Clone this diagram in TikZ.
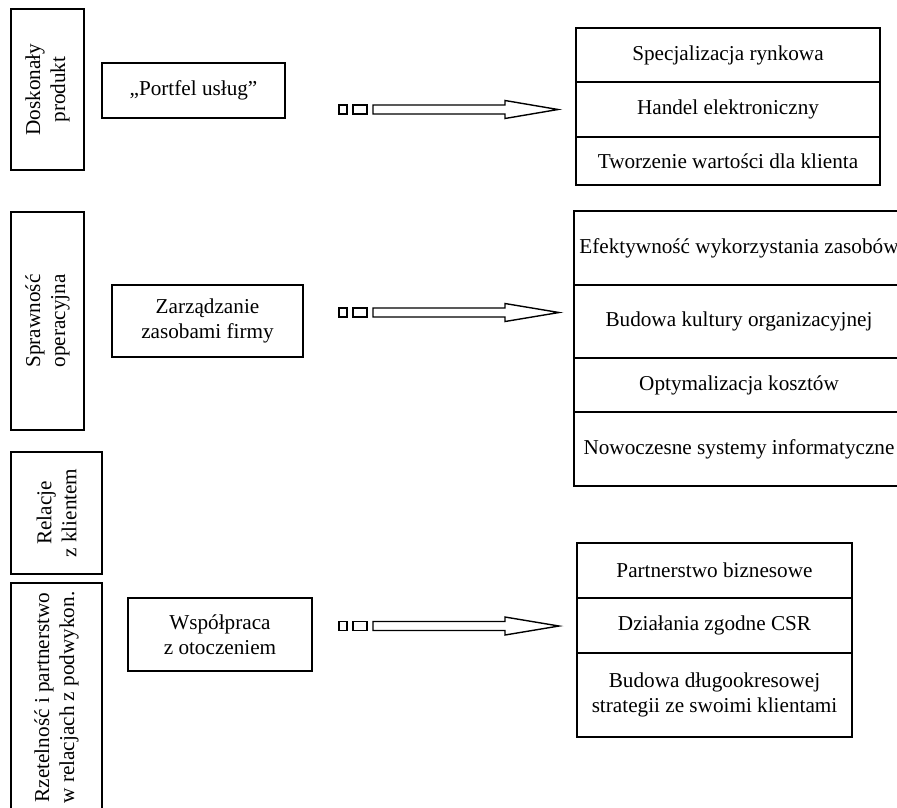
\documentclass[tikz,border=0pt]{standalone}
\usepackage{fontspec}
\setmainfont{Liberation Serif}
\usetikzlibrary{positioning}

\tikzset{
  txt/.style={font=\fontsize{21.2}{25}\selectfont, align=center},
  sidebox/.style={draw, line width=1.3pt, txt, rotate=90, inner sep=2pt},
  midbox/.style={draw, line width=1.3pt, txt, inner sep=2pt},
  cell/.style={draw, line width=1.3pt, txt, outer sep=0pt, inner sep=2pt},
  hollow/.style={draw, line width=1.4pt, fill=white}
}

\begin{document}
\begin{tikzpicture}[x=1pt, y=-1pt]
        \useasboundingbox (0,0) rectangle (897,808);
        \clip (0,0) rectangle (897,808);

        % left column
        \node[sidebox, minimum width=161pt, minimum height=73pt] (dosk) at (47.5,89.5) {Doskonały\\produkt};
        \node[sidebox, minimum width=218pt, minimum height=73pt] (spraw) at (47.5,321) {Sprawność\\operacyjna};
        \node[sidebox, minimum width=122pt, minimum height=91pt] (relacje) at (56.5,513) {Relacje\\z klientem};
        \node[sidebox, minimum width=229pt, minimum height=91pt] (rzetel) at (56.5,697.5) {Rzetelność i partnerstwo\\w relacjach z podwykon.};

        % middle column
        \node[midbox, minimum width=183pt, minimum height=55pt] (portfel) at (193.5,90.5) {„Portfel usług”};
        \node[midbox, minimum width=191pt, minimum height=72pt] (zarz) at (207.5,321) {Zarządzanie\\zasobami firmy};
        \node[midbox, minimum width=184pt, minimum height=73pt] (wspol) at (220,634.5) {Współpraca\\z otoczeniem};

        % right column, top
        \node[cell, minimum width=304pt, minimum height=54pt, anchor=north] (spec) at (728,28) {Specjalizacja rynkowa};
        \node[cell, minimum width=304pt, minimum height=55pt, below=0pt of spec] (handel) {Handel elektroniczny};
        \node[cell, minimum width=304pt, minimum height=48pt, below=0pt of handel] (wart) {Tworzenie wartości dla klienta};

        % right column, middle
        \node[cell, minimum width=330pt, minimum height=74pt, anchor=north] (efekt) at (739,211) {Efektywność wykorzystania zasobów};
        \node[cell, minimum width=330pt, minimum height=73pt, below=0pt of efekt] (kult) {Budowa kultury organizacyjnej};
        \node[cell, minimum width=330pt, minimum height=54pt, below=0pt of kult] (koszt) {Optymalizacja kosztów};
        \node[cell, minimum width=330pt, minimum height=74pt, below=0pt of koszt] (sys) {Nowoczesne systemy informatyczne};

        % right column, bottom
        \node[cell, minimum width=275pt, minimum height=55pt, anchor=north] (partner) at (714.5,543) {Partnerstwo biznesowe};
        \node[cell, minimum width=275pt, minimum height=55pt, below=0pt of partner] (csr) {Działania zgodne CSR};
        \node[cell, minimum width=275pt, minimum height=84pt, below=0pt of csr] (strat) {Budowa długookresowej\\strategii ze swoimi klientami};

        % arrows
        \draw[hollow] (339,105) rectangle (347,114);
        \draw[hollow] (353,105) rectangle (367,114);
        \draw[hollow] (373,105) -- (505,105) -- (505,100.5) -- (558,109.5) -- (505,118.5) -- (505,114) -- (373,114) -- cycle;

        \draw[hollow] (339,308) rectangle (347,317);
        \draw[hollow] (353,308) rectangle (367,317);
        \draw[hollow] (373,308) -- (505,308) -- (505,303.5) -- (559,312.5) -- (505,321.5) -- (505,317) -- (373,317) -- cycle;

        \draw[hollow] (339,621.5) rectangle (347,630.5);
        \draw[hollow] (353,621.5) rectangle (367,630.5);
        \draw[hollow] (373,621.5) -- (505,621.5) -- (505,617) -- (559,626) -- (505,635) -- (505,630.5) -- (373,630.5) -- cycle;
\end{tikzpicture}
\end{document}
